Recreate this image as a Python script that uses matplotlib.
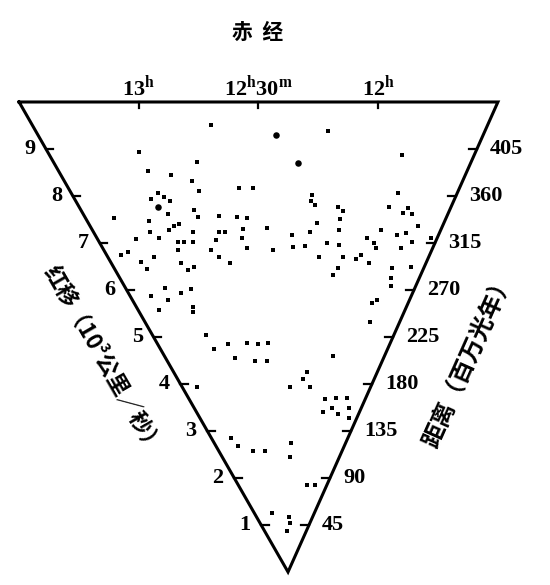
import numpy as np
import matplotlib
matplotlib.use('Agg')
import matplotlib.pyplot as plt

plt.rcParams['font.family'] = ['Liberation Serif', 'Noto Sans CJK SC', 'DejaVu Sans']
plt.rcParams['mathtext.fontset'] = 'custom'
plt.rcParams['mathtext.rm'] = 'Liberation Serif'
plt.rcParams['mathtext.bf'] = 'Liberation Serif:bold'

#
#  galaxies read off the slice: right ascension (minutes of time) and
#  recession velocity (km/s)
#
ra_min = [762.9, 732.0, 784.5, 768.8, 710.4, 783.6, 777.3, 771.5, 770.1, 757.5,
          753.2, 782.9, 781.5, 780.0, 785.7, 782.0, 773.2, 772.5, 765.5, 759.4,
          756.1, 800.6, 789.4, 781.4, 779.5, 757.9, 735.2, 735.4, 734.0, 726.6,
          724.8, 725.4, 732.9, 749.7, 708.5, 710.0, 704.9, 703.8, 701.9, 698.5,
          783.5, 790.6, 788.0, 781.8, 779.7, 782.8, 775.5, 776.5, 796.2, 801.6,
          804.8, 792.9, 798.3, 797.2, 783.4, 781.6, 778.9, 766.6, 764.5, 758.7,
          768.2, 770.8, 757.4, 768.5, 764.9, 748.0, 740.8, 741.2, 735.1, 736.5,
          728.8, 731.1, 724.9, 724.1, 722.2, 716.9, 715.4, 711.7, 723.4, 724.9,
          714.7, 711.8, 710.6, 710.6, 704.5, 701.7, 701.6, 698.4, 692.3, 702.3,
          695.2, 701.4, 700.2, 705.8, 704.0, 703.9, 793.5, 801.3, 794.5, 787.7,
          783.0, 784.8, 785.7, 800.5, 783.4, 781.8, 773.8, 763.5, 757.9, 752.8,
          772.0, 760.8, 754.2, 800.6, 718.3, 731.5, 733.5, 728.7, 741.3, 717.7,
          709.8, 702.4, 717.1, 711.3, 705.0, 698.5, 695.7, 793.1, 789.8, 776.3,
          764.8, 739.9, 740.6, 717.1, 706.4, 774.2, 740.5, 737.8, 745.4]
cz = [9510, 9380, 8940, 8720, 8870, 8530, 8450, 8320, 8110, 8170,
      8170, 8060, 7980, 7890, 7940, 7620, 7700, 7550, 7570, 7550,
      7530, 7530, 7470, 7360, 7400, 7300, 8020, 7890, 7810, 7770,
      7680, 7510, 7430, 7320, 8060, 7770, 7640, 7740, 7620, 7360,
      7280, 7230, 7110, 7020, 7020, 6850, 7230, 7020, 7090, 6810,
      6740, 6700, 6600, 6450, 6570, 6430, 6490, 7230, 7230, 7110,
      7060, 6850, 6890, 6700, 6570, 6850, 6910, 7170, 7230, 6940,
      7000, 6700, 7280, 6960, 6700, 6660, 6740, 6570, 6470, 6320,
      7110, 7000, 6890, 7280, 7170, 7210, 6890, 7020, 7110, 6470,
      6490, 6260, 6090, 5720, 5790, 5320, 6040, 5870, 5790, 5940,
      6020, 5640, 5530, 5570, 5040, 4740, 4850, 4870, 4850, 4870,
      4550, 4490, 4490, 3940, 4600, 4260, 4110, 3940, 3940, 3680,
      3700, 3700, 3400, 3490, 3360, 3490, 3280, 2850, 2680, 2570,
      2570, 2740, 2450, 1850, 1850, 1260, 1170, 1040, 870]

# the few brighter blobs
bright_ra = [745.8, 739.7, 784.5]
bright_cz = [9300, 8700, 7770]

ra_ticks = [780, 750, 720]
ra_labels = [r'13$^{\mathbf{h}}$', r'12$^{\mathbf{h}}$30$^{\mathbf{m}}$', r'12$^{\mathbf{h}}$']
cz_ticks = [1, 2, 3, 4, 5, 6, 7, 8, 9]              # 10^3 km/s
dist_ticks = [45, 90, 135, 180, 225, 270, 315, 360, 405]   # 百万光年

ra_lo, ra_hi = 690, 810     # edges of the slice
cz_top = 10.0

#  straight-topped wedge: height = velocity, width grows with velocity
RA_UP = 742.6
K = 0.00849

def proj(ra, v):
    return -K * np.asarray(v, float) * (np.asarray(ra, float) - RA_UP)

fig = plt.figure(figsize=(5.5, 5.85), dpi=100)
ax = fig.add_axes([0, 0, 1, 1])
ax.set_xlim(-6.128, 5.574)
ax.set_ylim(-0.277, 12.17)
ax.axis('off')

v = np.array(cz) / 1000.
ax.scatter(proj(ra_min, v), v, s=6, marker='s', color='black', linewidths=0)
vb = np.array(bright_cz) / 1000.
ax.scatter(proj(bright_ra, vb), vb, s=22, marker='o', color='black', linewidths=0)

xl, xr = proj(ra_hi, cz_top), proj(ra_lo, cz_top)
ax.plot([xl, 0, xr, xl], [cz_top, 0, cz_top, cz_top], color='black', lw=2.2,
        solid_joinstyle='miter', solid_capstyle='projecting')

tkw = dict(color='black', lw=1.6)
for t, d in zip(cz_ticks, dist_ticks):
    a = proj(ra_hi, t)
    b = proj(ra_lo, t)
    ax.plot([a, a + 0.16], [t, t], **tkw)
    ax.plot([b - 0.16, b], [t, t], **tkw)
    ax.text(a - 0.23, t, str(t), ha='right', va='center', fontsize=16, weight='bold')
    ax.text(b + 0.28, t, str(d), ha='left', va='center', fontsize=16, weight='bold')

for r, lab in zip(ra_ticks, ra_labels):
    x = proj(r, cz_top)
    ax.plot([x, x], [cz_top, cz_top - 0.13], **tkw)
    ax.text(x, cz_top + 0.14, lab, ha='center', va='baseline', fontsize=16, weight='bold')

cjk = ['Noto Sans CJK SC', 'DejaVu Sans']
ax.text(-0.64, 11.47, '赤  经', ha='center', va='center', fontsize=15,
        weight='bold', family=cjk)
ax.text(-3.94, 4.51, '红移（10³公里／秒）', ha='center', va='center', rotation=-60,
        rotation_mode='anchor', fontsize=16, weight='bold', family=cjk)
ax.text(3.83, 4.51, '距离（百万光年）', ha='center', va='center', rotation=66,
        rotation_mode='anchor', fontsize=17, weight='bold', family=cjk)

fig.savefig('out.png', dpi=100)
